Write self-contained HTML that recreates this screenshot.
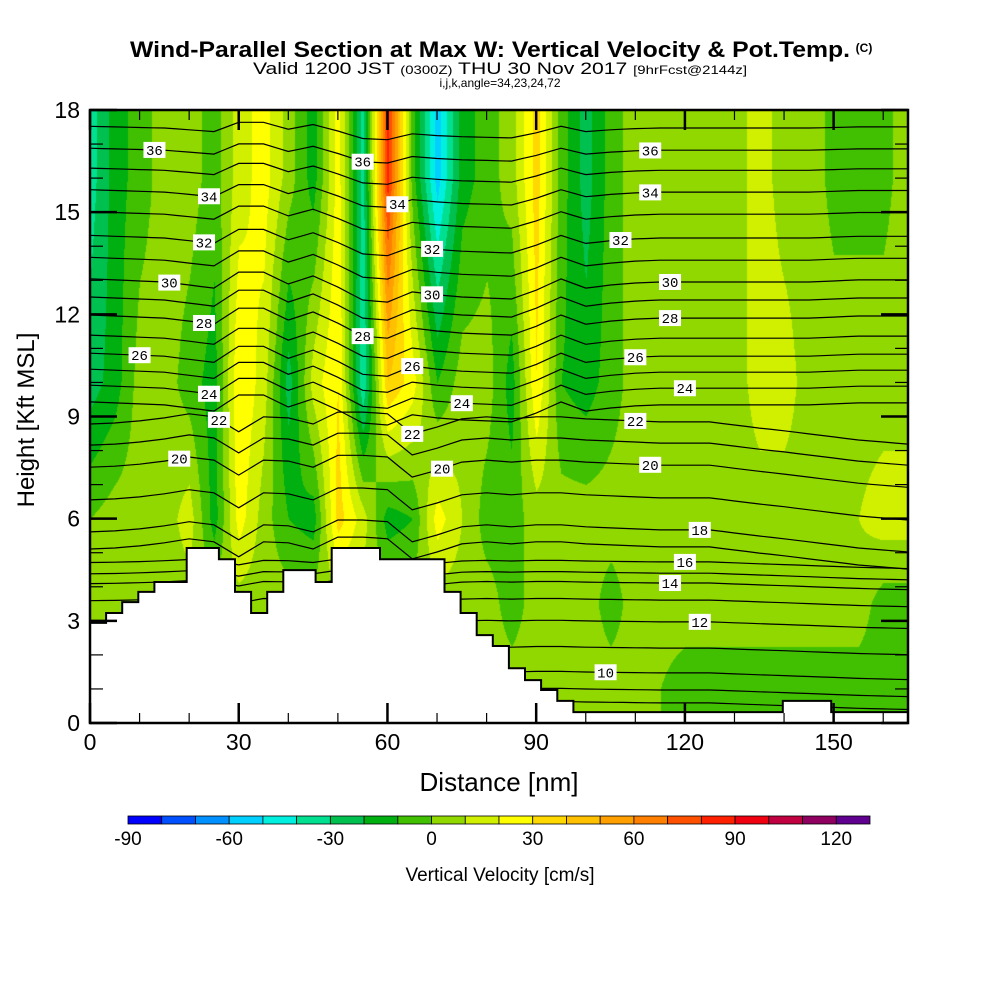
<!DOCTYPE html>
<html><head><meta charset="utf-8">
<style>
html,body{margin:0;padding:0;background:#fff;}
#wrap{position:relative;width:1000px;height:1000px;overflow:hidden;font-family:"Liberation Sans",Arial,sans-serif;}
canvas{position:absolute;left:90px;top:110px;}
svg{position:absolute;left:0;top:0;}
</style></head>
<body>
<div id="wrap">
<canvas id="field" width="818" height="613"></canvas>
<svg id="svg" width="1000" height="1000">
<g id="contours"></g>
<g id="terrain"></g>
<g id="labels"></g>
<g id="axes"></g>
<g id="cbar"></g>
<text x="490" y="57" text-anchor="middle" font-size="22" font-weight="bold" textLength="720" lengthAdjust="spacingAndGlyphs">Wind-Parallel Section at Max W: Vertical Velocity &amp; Pot.Temp.</text>
<text x="864" y="52" text-anchor="middle" font-size="12" font-weight="bold">(C)</text>
<text x="500" y="74" text-anchor="middle" font-size="17" textLength="494" lengthAdjust="spacingAndGlyphs">Valid 1200 JST <tspan font-size="12">(0300Z)</tspan> THU 30 Nov 2017 <tspan font-size="12">[9hrFcst@2144z]</tspan></text>
<text x="500" y="87" text-anchor="middle" font-size="12">i,j,k,angle=34,23,24,72</text>
<text x="499" y="791" text-anchor="middle" font-size="26">Distance [nm]</text>
<text transform="translate(34,420) rotate(-90)" text-anchor="middle" font-size="24">Height [Kft MSL]</text>
<text x="500" y="881" text-anchor="middle" font-size="19">Vertical Velocity [cm/s]</text>
</svg>
</div>
<script>
// ---- data ----
const stationsNm = [0,5,10,15,20,25,30,35,40,45,50,55,60,65,70,75,80,85,90,95,100,105,110,115,120,125,130,135,140,145,150,155,160,165];
const wHeights = [1,3.5,6,10,16];
const w1kft  = [5,5,5,5,5,5,5,5,5,5,5,5,5,5,5,5,5,5,5,5,5,5,5,0,-5,-5,-5,-5,-5,-5,-5,-5,-5,-5];
const w3kft  = [5,5,5,5,5,5,5,5,5,5,5,5,5,5,5,5,5,-5,5,5,5,-5,5,5,5,5,5,5,5,5,5,5,-5,-5];
const w6kft  = [0,5,5,5,15,-15,25,5,-10,-15,35,15,-15,-10,25,10,-5,-5,5,5,5,5,5,5,5,5,5,5,5,5,5,10,15,15];
const w10kft = [-25,-15,5,5,-5,-15,30,15,-25,15,30,-40,40,25,-10,5,5,-15,30,-10,-15,-5,5,5,5,5,5,15,15,5,5,5,5,5];
const w16kft = [-35,-15,-5,5,5,-5,15,25,5,-15,25,-35,85,-5,-55,-15,-5,5,35,-5,-25,-5,5,5,5,5,5,15,5,5,-3,-3,-3,5];
const thetaLevels = [8,9,10,11,12,13,14,15,16,17,18,19,20,21,22,23,24,25,26,27,28,29,30,31,32,33,34,35,36,37];
const thetaBaseKft = [0.59,0.97,1.47,2.20,2.97,3.61,4.11,4.40,4.73,5.17,5.67,6.61,7.57,8.22,8.84,9.34,9.83,10.30,10.77,11.30,11.89,12.42,12.95,13.59,14.24,14.94,15.59,16.23,16.82,17.47];
const dispUpperKft = [0.09,0.06,0.03,0,-0.09,-0.18,0.29,0.29,-0.06,0.18,-0.15,-0.53,-0.59,-0.29,-0.38,-0.44,-0.47,-0.5,-0.24,0.09,-0.18,-0.09,-0.03,0,0,0,0,0,0,0,0.03,0.06,0.06,0.06];
const dispLowerKft = [-0.06,-0.03,0.03,0.12,0.24,0.15,-0.29,0.15,0.12,-0.06,0.29,0.29,0.24,-0.35,-0.15,0.09,0.15,0.09,0.15,0.15,0.09,0.06,0.03,0,0,0,-0.09,-0.18,-0.26,-0.35,-0.44,-0.53,-0.59,-0.65];
const labelLevels = [36,36,36,34,34,34,32,32,32,30,30,30,28,28,28,26,26,26,24,24,24,22,22,22,20,20,20,18,16,14,12,10];
const labelNm     = [13,55,113,24,62,113,23,69,107,16,69,117,23,55,117,10,65,110,24,75,120,26,65,110,18,71,113,123,120,117,123,104];
const terrainCellNm = 3.25;
const terrainKft = [2.94,3.23,3.55,3.85,4.14,4.14,5.14,5.14,4.81,3.85,3.23,3.85,4.49,4.49,4.14,5.14,5.14,5.14,4.81,4.81,4.81,4.81,3.85,3.23,2.58,2.26,1.61,1.26,0.97,0.65,0.32,0.32,0.32,0.32,0.32,0.32,0.32,0.32,0.32,0.32,0.32,0.32,0.32,0.65,0.65,0.65,0.32,0.32,0.32,0.32,0.32,0.32];
const cbColors = ['#0000ff','#0050ff','#0090ff','#00d0ff','#00f0e0','#00e090','#00c050','#00b010','#40c000','#90d800','#d0f000','#ffff00','#ffd800','#ffc000','#ffa000','#ff8000','#ff5000','#ff2000','#f00010','#c00040','#900060','#600090'];
const cbTicks = [-90,-60,-30,0,30,60,90,120];
const xTicks = [0,30,60,90,120,150];
const yTicks = [0,3,6,9,12,15,18];

// ---- scales ----
const X0=90,X1=908,Y0=723,Y1=110;
const xs = nm => X0 + nm*(X1-X0)/165;
const ys = k => Y0 - k*(Y0-Y1)/18;
const NS='http://www.w3.org/2000/svg';
function mk(tag,attrs,parent){const e=document.createElementNS(NS,tag);for(const k in attrs)e.setAttribute(k,attrs[k]);parent.appendChild(e);return e;}
function interpX(arr,nm){
  const s=Math.max(0,Math.min(stationsNm.length-1.0001,nm/5));const i=Math.floor(s),f=s-i;
  return arr[i]*(1-f)+arr[Math.min(i+1,arr.length-1)]*f;
}
function hex(c){return [parseInt(c.slice(1,3),16),parseInt(c.slice(3,5),16),parseInt(c.slice(5,7),16)];}

// ---- field ----
const cv=document.getElementById('field');const ctx=cv.getContext('2d');
const W=cv.width,H=cv.height;const img=ctx.createImageData(W,H);
const rgb=cbColors.map(hex);
const wLevels=[w1kft,w3kft,w6kft,w10kft,w16kft];
for(let px=0;px<W;px++){
  const nm=px*165/W;
  const col=wLevels.map(a=>interpX(a,nm));
  for(let py=0;py<H;py++){
    const k=(H-py)*18/H;
    let w;
    if(k<=wHeights[0])w=col[0];else if(k>=wHeights[4])w=col[4];
    else{let j=0;while(k>wHeights[j+1])j++;const f=(k-wHeights[j])/(wHeights[j+1]-wHeights[j]);w=col[j]*(1-f)+col[j+1]*f;}
    let idx=Math.floor((w+90)/10);idx=Math.max(0,Math.min(21,idx));
    const o=(py*W+px)*4;const c=rgb[idx];img.data[o]=c[0];img.data[o+1]=c[1];img.data[o+2]=c[2];img.data[o+3]=255;
  }
}
ctx.putImageData(img,0,0);

// ---- contours ----
function thetaHeight(li,nm){
  const lev=thetaLevels[li];const base=thetaBaseKft[li];
  let d;
  if(lev>=23){const amp=lev<=30?1:1-(lev-30)*0.06;d=interpX(dispUpperKft,nm)*amp;}
  else if(lev>=17){d=interpX(dispLowerKft,nm);}
  else{d=interpX(dispLowerKft,nm)*0.3;}
  return Math.min(17.95,base+d);
}
const cg=document.getElementById('contours');
thetaLevels.forEach((lev,li)=>{
  const pts=[];for(let nm=0;nm<=165;nm+=2.5)pts.push(xs(nm).toFixed(1)+','+ys(thetaHeight(li,nm)).toFixed(1));
  const p=mk('polyline',{points:pts.join(' '),fill:'none',stroke:'#000','stroke-width':1.2},cg);
  
  
});

// ---- terrain ----
const tg=document.getElementById('terrain');
let d='M'+X0+','+Y0;
terrainKft.forEach((h,i)=>{const xa=Math.min(X1,xs(i*terrainCellNm)),xb=Math.min(X1,xs((i+1)*terrainCellNm));d+=' L'+xa.toFixed(1)+','+ys(h).toFixed(1)+' L'+xb.toFixed(1)+','+ys(h).toFixed(1);});
d+=' L'+X1+','+Y0+' Z';
const tp=mk('path',{d:d,fill:'#fff',stroke:'#000','stroke-width':2},tg);



// ---- labels ----
const lg=document.getElementById('labels');
labelLevels.forEach((lev,i)=>{
  const li=thetaLevels.indexOf(lev);const nm=labelNm[i];
  const x=xs(nm),y=ys(thetaHeight(li,nm));
  const g=mk('g',{},lg);
  
  
  mk('rect',{x:x-11,y:y-8,width:22,height:16,fill:'#fff'},g);
  const t=mk('text',{x:x,y:y+5,'text-anchor':'middle','font-size':14,'font-family':'Liberation Mono, monospace'},g);
  t.textContent=lev;
});

// ---- axes ----
const ag=document.getElementById('axes');
const fr=mk('rect',{x:X0,y:Y1,width:X1-X0,height:Y0-Y1,fill:'none',stroke:'#000','stroke-width':2.5},ag);


for(let k=0;k<=18;k++){
  const len=k%3===0?27:13,y=ys(k);
  mk('line',{x1:X0,x2:X0+len,y1:y,y2:y,stroke:'#000','stroke-width':k%3===0?2.5:1.2},ag);
  mk('line',{x1:X1,x2:X1-len,y1:y,y2:y,stroke:'#000','stroke-width':k%3===0?2.5:1.2},ag);
}
for(let n=0;n<=165;n+=10){
  const major=n%30===0,len=major?20:10,x=xs(n);
  mk('line',{x1:x,x2:x,y1:Y0,y2:Y0-len,stroke:'#000','stroke-width':major?2.5:1.2},ag);
  mk('line',{x1:x,x2:x,y1:Y1,y2:Y1+len,stroke:'#000','stroke-width':major?2.5:1.2},ag);
}
yTicks.forEach(v=>{const t=mk('text',{x:X0-10,y:ys(v)+8,'text-anchor':'end','font-size':23},ag);t.textContent=v;
  
  });
xTicks.forEach(v=>{const t=mk('text',{x:xs(v),y:Y0+27,'text-anchor':'middle','font-size':23},ag);t.textContent=v;
  
  });

// ---- colorbar ----
const bg=document.getElementById('cbar');
const CB0=128,CB1=870,CBY=816,CBH=8,bw=(CB1-CB0)/cbColors.length;
cbColors.forEach((c,i)=>{const r=mk('rect',{x:CB0+i*bw,y:CBY,width:bw,height:CBH,fill:c,stroke:'#000','stroke-width':0.8},bg);
  
  });
cbTicks.forEach(v=>{const t=mk('text',{x:CB0+(v+90)/10*bw,y:845,'text-anchor':'middle','font-size':19},bg);t.textContent=v;
  
  });
</script>
</body></html>
